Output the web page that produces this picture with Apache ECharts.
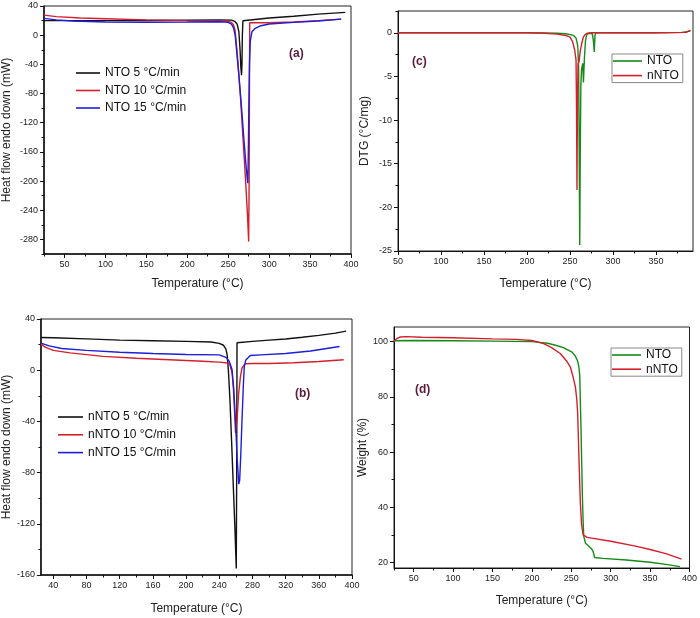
<!DOCTYPE html>
<html><head><meta charset="utf-8">
<script src="https://cdn.jsdelivr.net/npm/echarts@6/dist/echarts.min.js"></script>
<style>html,body{margin:0;padding:0;background:#fff}#c{width:700px;height:618px}</style>
</head><body><div id="c"></div>
<script>
// ---------- Panel (a): DSC of NTO ----------
const aBlackT = [25,40,60,100,150,200,240,254,258,261,263,264.5,265.5,266.3,266.8,267.3,268,270,300,330,360,393];
const aBlackV = [19.9,20,20,20,20.2,20.5,20.8,20.6,19,15,5,-20,-45,-55,-40,0,19.8,20.2,23.5,26,28.8,31.3];
const aRedT = [25,40,70,100,150,200,240,250,254,256.5,258.5,260,262,265,268,271,273.5,275,275.6,276,276.3,285,300,330,360,388];
const aRedV = [27.5,25.5,23.5,22.5,21,20,19.5,19,17.5,14,6,-12,-38,-85,-140,-195,-245,-283,-200,-60,17,17,17,18,20,22];
const aBlueT = [25,40,60,100,150,200,240,250,254,256.5,258.5,260,263,266,269,271.5,273.3,274,274.6,275.3,276,277,279,283,290,300,330,360,388];
const aBlueV = [23,21,19.5,18,17.8,18,18.5,17.5,15,10,0,-18,-55,-95,-140,-175,-197,-203,-160,-90,-40,-8,4.8,9.4,13,15.3,17.5,19.5,22];
const aNames = ['NTO 5 °C/min','NTO 10 °C/min','NTO 15 °C/min'];
const aXMajor = [50,100,150,200,250,300,350,400];
const aXMinor = [25,75,125,175,225,275,325,375];
const aYMajor = [-280,-240,-200,-160,-120,-80,-40,0,40];
const aYMinor = [-300,-260,-220,-180,-140,-100,-60,-20,20];

// ---------- Panel (b): DSC of nNTO ----------
const bBlackT = [25,40,80,120,160,200,230,240,245,248,249.5,251,253,255,257,259,260.5,261,261.4,280,300,320,340,360,380,393];
const bBlackV = [25.5,25.3,24.5,23.5,23,22.5,22,21,19.5,16.5,12,0,-25,-58,-92,-126,-155,-80,21.5,22.5,23.5,24.4,25.7,27.2,29,30.5];
const bRedT = [25,30,40,60,100,140,180,220,240,250,253,255.4,257,258.5,259.6,260.5,261.5,263.4,265.5,267.4,271,280,300,330,360,390];
const bRedV = [20.5,18,15.5,13.5,10.8,9.3,8.2,7,6.3,5.6,4,-2,-14,-33,-49,-50.5,-38,-18,-5,1.7,5,5.2,5.2,5.8,6.8,8.2];
const bBlueT = [25,35,50,80,120,160,200,240,248,252,255.4,257.5,259.4,261.5,263.5,264.6,266,267.4,269,270.2,272,277.4,290,320,350,385];
const bBlueV = [21.2,19,17,15.5,14,13,12.3,12,10,7,0.5,-15,-38,-68,-89,-86,-65,-39,-12,3,8,11.5,12,13,15,18.5];
const bNames = ['nNTO 5 °C/min','nNTO 10 °C/min','nNTO 15 °C/min'];
const bXMajor = [40,80,120,160,200,240,280,320,360,400];
const bXMinor = [60,100,140,180,220,260,300,340,380];
const bYMajor = [-160,-120,-80,-40,0,40];
const bYMinor = [-140,-100,-60,-20,20];

// ---------- Panel (c): DTG ----------
const cGreenT = [50,100,150,200,220,235,245,250,254,257,259,260,260.6,261.3,261.9,262.6,263.4,264.8,265.6,266.8,268,269.5,272,276,277.3,278.2,279,280,300,350,380,390];
const cGreenV = [0,0,0,0,-0.02,-0.05,-0.1,-0.2,-0.3,-0.6,-1.5,-4,-12,-24.3,-14,-6,-4.2,-3.5,-5.7,-2.8,-0.9,-0.2,-0.05,-0.1,-1,-2.2,-0.3,0,0,0,0.05,0.2];
const cRedT = [50,100,150,200,220,235,245,250,253,255.5,257,257.6,258.1,258.6,259.3,260.5,262,263.7,265.5,267.5,270,275,300,350,385,390];
const cRedV = [0,0,0,0,-0.05,-0.15,-0.3,-0.5,-1,-2,-3.1,-9,-18,-9,-3.6,-3.3,-2,-1.2,-0.5,-0.2,-0.05,0,0,0,0.05,0.3];
const cdNames = ['NTO','nNTO'];
const cXMajor = [50,100,150,200,250,300,350];
const cXMinor = [75,125,175,225,275,325,375];
const cYMajor = [-25,-20,-15,-10,-5,0];
const cYMinor = [-22.5,-17.5,-12.5,-7.5,-2.5,2.5];

// ---------- Panel (d): TGA ----------
const dGreenT = [25,50,100,150,200,220,230,240,251,255,258,259.5,260.7,261.5,262.4,263.2,264.1,265,265.8,268,272,275.5,277.6,279.7,290,320,350,370,388];
const dGreenV = [100.3,100.4,100.3,100.2,100,99.4,98.7,97.8,96.2,94.8,93,91,88,78,68,56,44,35,29.5,27,26,25,24,21.8,21.5,20.9,20.1,19.3,18.5];
const dRedT = [25,28,33,40,60,100,150,180,200,215,225,236,244,248.8,252,255.2,257,258.1,259,259.9,261.5,263,265,267,270,300,330,350,370,390];
const dRedV = [100,101,101.7,101.8,101.6,101.4,101,100.8,100.4,99.3,97.8,95.7,93,90.8,87.5,83.6,79,74,65,56,41.5,34,30,29.4,29.1,27.7,26,24.7,23.2,21.2];
const dXMajor = [50,100,150,200,250,300,350,400];
const dXMinor = [25,75,125,175,225,275,325,375];
const dYMajor = [20,40,60,80,100];
const dYMinor = [30,50,70,90];

const FONT = 'Liberation Sans, Arial, sans-serif';
const zip = (t, v) => t.map((x, i) => [x, v[i]]);

const grids = [
  {left: 43, top: 6, width: 308, height: 248},    // a
  {left: 398, top: 11, width: 295, height: 240},  // c
  {left: 39, top: 319, width: 313, height: 256},  // b
  {left: 394, top: 327, width: 296, height: 241}  // d
].map(g => Object.assign(g, {show: true, borderColor: '#222', borderWidth: 1, backgroundColor: 'transparent'}));

function mainAxis(dim, gi, min, max, majors, name, gap, lw) {
  return {
    type: 'value', gridIndex: gi, min, max, position: dim === 'x' ? 'bottom' : 'left',
    axisLine: {show: true, onZero: false, lineStyle: {color: '#111', width: lw}},
    axisTick: {show: true, inside: false, length: 4, customValues: majors, lineStyle: {color: '#111', width: 1}},
    axisLabel: {show: true, customValues: majors, margin: 6, color: '#222', fontSize: 9, fontFamily: FONT},
    splitLine: {show: false},
    name, nameLocation: 'middle', nameGap: gap,
    nameTextStyle: {fontSize: 12, color: '#222', fontFamily: FONT}
  };
}
function minorAxis(dim, gi, min, max, minors) {
  return {
    type: 'value', gridIndex: gi, min, max, position: dim === 'x' ? 'bottom' : 'left',
    axisLine: {show: false, onZero: false},
    axisTick: {show: true, inside: false, length: 2.5, customValues: minors, lineStyle: {color: '#111', width: 1}},
    axisLabel: {show: false},
    splitLine: {show: false}
  };
}

const xAxis = [
  mainAxis('x', 0, 25, 400, aXMajor, 'Temperature (°C)', 24, 1.5),
  mainAxis('x', 1, 50, 393, cXMajor, 'Temperature (°C)', 27, 1),
  mainAxis('x', 2, 25, 400, bXMajor, 'Temperature (°C)', 28, 1.5),
  mainAxis('x', 3, 25, 400, dXMajor, 'Temperature (°C)', 27, 1),
  minorAxis('x', 0, 25, 400, aXMinor),
  minorAxis('x', 1, 50, 393, cXMinor),
  minorAxis('x', 2, 25, 400, bXMinor),
  minorAxis('x', 3, 25, 400, dXMinor)
];
const yAxis = [
  mainAxis('y', 0, -300, 40, aYMajor, 'Heat flow endo down (mW)', 31, 1.5),
  mainAxis('y', 1, -25, 2.5, cYMajor, 'DTG (°C/mg)', 27, 1),
  mainAxis('y', 2, -160, 40, bYMajor, 'Heat flow endo down (mW)', 27, 1.5),
  mainAxis('y', 3, 18, 105.3, dYMajor, 'Weight (%)', 22, 1),
  minorAxis('y', 0, -300, 40, aYMinor),
  minorAxis('y', 1, -25, 2.5, cYMinor),
  minorAxis('y', 2, -160, 40, bYMinor),
  minorAxis('y', 3, 18, 105.3, dYMinor)
];

const BLACK = '#111', RED = '#d61f2c', BLUE = '#1d1ddb', GREEN = '#168a16';
function ser(name, ai, t, v, color, w) {
  return {type: 'line', name, xAxisIndex: ai, yAxisIndex: ai, data: zip(t, v),
    symbol: 'none', showSymbol: false, color, itemStyle: {color}, lineStyle: {color, width: w || 1.4}, animation: false};
}
const series = [
  ser(aNames[0], 0, aBlackT, aBlackV, BLACK),
  ser(aNames[1], 0, aRedT, aRedV, RED),
  ser(aNames[2], 0, aBlueT, aBlueV, BLUE),
  ser(cdNames[0], 1, cGreenT, cGreenV, GREEN),
  ser(cdNames[1], 1, cRedT, cRedV, RED),
  ser(bNames[0], 2, bBlackT, bBlackV, BLACK),
  ser(bNames[1], 2, bRedT, bRedV, RED),
  ser(bNames[2], 2, bBlueT, bBlueV, BLUE),
  ser(cdNames[0], 3, dGreenT, dGreenV, GREEN),
  ser(cdNames[1], 3, dRedT, dRedV, RED)
];

const legText = {fontSize: 12, color: '#111', fontFamily: FONT};
const legBase = {orient: 'vertical', icon: 'rect', itemHeight: 1.6, textStyle: legText, selectedMode: false};
const legend = [
  Object.assign({data: aNames, left: 76, top: 67, itemWidth: 24, itemGap: 5.5, padding: 0}, legBase),
  Object.assign({data: bNames, left: 58, top: 411, itemWidth: 25, itemGap: 5.8, padding: 0}, legBase),
  Object.assign({data: cdNames, left: 612, top: 54, itemWidth: 29, itemGap: 2.6, padding: [1, 4, 1, 1], borderColor: '#888', borderWidth: 1}, legBase),
  Object.assign({data: cdNames, left: 611, top: 348, itemWidth: 29, itemGap: 2.2, padding: [1, 4, 1, 1], borderColor: '#888', borderWidth: 1}, legBase)
];

const tagStyle = (t) => ({text: t, font: 'bold 12px ' + FONT, fill: '#5a1a3a'});
const graphic = [
  {type: 'text', left: 289, top: 48, style: tagStyle('(a)')},
  {type: 'text', left: 412, top: 56, style: tagStyle('(c)')},
  {type: 'text', left: 295, top: 388, style: tagStyle('(b)')},
  {type: 'text', left: 415, top: 384, style: tagStyle('(d)')}
];

const chart = echarts.init(document.getElementById('c'), null, {renderer: 'canvas'});
chart.setOption({
  backgroundColor: '#fff', animation: false,
  textStyle: {fontFamily: FONT},
  grid: grids, xAxis, yAxis, series, legend, graphic
});
</script></body></html>
